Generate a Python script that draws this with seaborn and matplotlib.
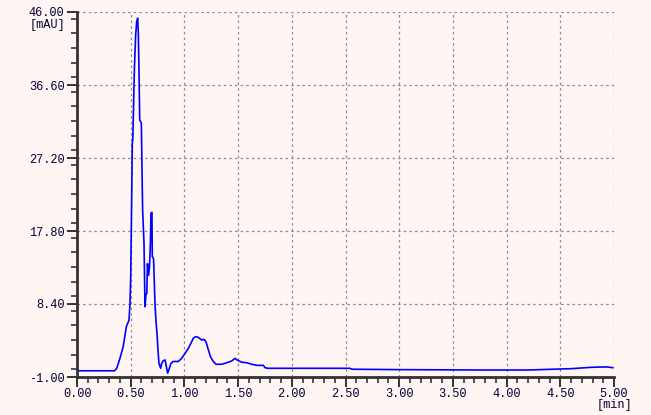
import numpy as np
import pandas as pd
import matplotlib
matplotlib.use("Agg")
import matplotlib.pyplot as plt
import seaborn as sns
from matplotlib.ticker import MultipleLocator, FormatStrFormatter

# chromatogram trace
time_min = [0.00, 0.01, 0.35, 0.37, 0.40, 0.43, 0.46, 0.484, 0.493, 0.50, 0.506, 0.515,
            0.52, 0.534, 0.546, 0.556, 0.565, 0.571, 0.577, 0.584, 0.599, 0.611, 0.624,
            0.633, 0.642, 0.65, 0.656, 0.667, 0.675, 0.683, 0.689, 0.698, 0.701, 0.713,
            0.726, 0.735, 0.745, 0.754, 0.763, 0.779, 0.788, 0.804, 0.82, 0.832, 0.844,
            0.86, 0.875, 0.897, 0.943, 0.975, 1.006, 1.037, 1.068, 1.083, 1.105, 1.13,
            1.161, 1.182, 1.201, 1.223, 1.245, 1.269, 1.294, 1.347, 1.394, 1.44, 1.471,
            1.49, 1.533, 1.58, 1.627, 1.673, 1.735, 1.75, 1.78, 2.54, 2.56, 3.00, 3.78,
            4.19, 4.60, 4.79, 4.93, 4.99]
absorbance = [0.0, -0.2, -0.2, 0.12, 1.4, 2.9, 5.5, 6.3, 8.3, 11.9, 18.4, 29.1,
              29.7, 38.5, 43.0, 44.75, 45.2, 43.3, 38.5, 32.1, 31.7, 20.5, 16.2,
              8.05, 9.6, 9.8, 13.6, 12.1, 13.2, 16.0, 20.1, 20.2, 14.5, 14.2,
              8.5, 6.3, 4.6, 2.5, 0.76, 0.12, 0.76, 1.1, 1.2, 0.33, -0.5,
              0.1, 0.76, 1.0, 1.0, 1.4, 2.05, 2.7, 3.55, 4.0, 4.2, 4.1,
              3.76, 3.85, 3.55, 2.5, 1.55, 1.0, 0.64, 0.64, 0.84, 1.06, 1.4,
              1.2, 0.9, 0.84, 0.64, 0.5, 0.5, 0.2, 0.12, 0.12, 0.0, -0.05, -0.1,
              -0.1, 0.07, 0.25, 0.3, 0.2]

y_ticks = [-1.00, 8.40, 17.80, 27.20, 36.60, 46.00]

df = pd.DataFrame({"t": time_min, "mAU": absorbance})

bg = "#FFF6F3"
plt.rcParams["font.family"] = ["Liberation Mono", "DejaVu Sans Mono"]
plt.rcParams["font.size"] = 8.6

fig = plt.figure(figsize=(6.51, 4.15), dpi=100, facecolor=bg)
ax = fig.add_axes([77 / 651, 1 - 377 / 415, 537 / 651, 365 / 415], facecolor=bg)

sns.lineplot(data=df, x="t", y="mAU", ax=ax, color="#0000FF", linewidth=1.2,
             sort=False, estimator=None)

ax.set_xlim(0, 5)
ax.set_ylim(-1, 46)
ax.set_yticks(y_ticks)
ax.xaxis.set_major_locator(MultipleLocator(0.5))
ax.xaxis.set_minor_locator(MultipleLocator(0.1))
ax.yaxis.set_minor_locator(MultipleLocator(1.88))
ax.xaxis.set_major_formatter(FormatStrFormatter("%.2f"))
ax.yaxis.set_major_formatter(FormatStrFormatter("%.2f"))
ax.set_xlabel("")
ax.set_ylabel("")

ax.grid(True, which="major", color="#8c8c8c", linestyle=(0, (2, 2.5)), linewidth=0.9)
for s in ["top", "right"]:
    ax.spines[s].set_visible(False)
for s in ["left", "bottom"]:
    ax.spines[s].set_color("#333333")
    ax.spines[s].set_linewidth(2)

ax.tick_params(which="major", length=7, width=1.4, color="#333333", labelcolor="#000033", pad=1)
ax.tick_params(which="minor", length=4, width=1.2, color="#333333")
ax.tick_params(axis="y", which="both", pad=2)

fig.text(30 / 651, 1 - 25 / 415, "[mAU]", fontsize=8.6, color="#000033", va="center", ha="left")
fig.text(614 / 651, 1 - 405 / 415, "[min]", fontsize=8.6, color="#000033", va="center", ha="center")

fig.savefig("out.png", dpi=100, facecolor=bg)
